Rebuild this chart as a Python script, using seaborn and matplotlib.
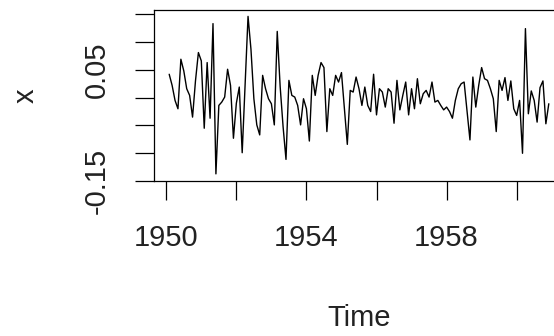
import numpy as np
import pandas as pd
import matplotlib
matplotlib.use("Agg")
import matplotlib.pyplot as plt
import seaborn as sns

# monthly series, starting Feb 1950
start_year = 1950
start_month = 2
x_values = [
    0.042, 0.022, -0.005, -0.020, 0.069, 0.048, 0.016, 0.004, -0.035, 0.030, 0.081, 0.066,
    -0.055, 0.063, -0.037, 0.133, -0.137, -0.014, -0.008, 0.001, 0.051, 0.022, -0.073, -0.010,
    0.019, -0.099, 0.025, 0.146, 0.087, -0.002, -0.049, -0.067, 0.040, 0.016, -0.002, -0.011,
    -0.049, 0.119, 0.020, -0.052, -0.111, 0.031, 0.004, 0.001, -0.014, -0.049, -0.002, -0.020,
    -0.078, 0.040, 0.004, 0.040, 0.063, 0.054, -0.061, 0.016, 0.004, 0.040, 0.028, 0.045,
    -0.020, -0.084, 0.013, 0.010, 0.037, 0.016, -0.014, 0.019, -0.014, -0.025, 0.042, -0.031,
    0.016, 0.010, -0.017, 0.016, 0.010, -0.046, 0.031, -0.022, 0.004, 0.028, -0.031, 0.016,
    -0.020, 0.034, -0.011, 0.007, 0.013, 0.001, 0.028, -0.008, -0.005, -0.014, -0.022, -0.017,
    -0.025, -0.037, -0.005, 0.016, 0.025, 0.028, -0.025, -0.076, 0.037, -0.017, 0.022, 0.054,
    0.034, 0.031, 0.016, -0.002, -0.061, 0.031, 0.013, 0.036, -0.005, 0.030, -0.020, -0.032,
    -0.005, -0.100, 0.124, -0.029, 0.012, -0.005, -0.044, 0.018, 0.030, -0.047, -0.011,
]
x_ticks = [1950, 1952, 1954, 1956, 1958, 1960]
x_ticklabels = ["1950", "", "1954", "", "1958", ""]
y_ticks = [-0.15, -0.10, -0.05, 0.00, 0.05, 0.10, 0.15]
y_ticklabels = ["-0.15", "", "", "", "0.05", "", ""]

time = start_year + (start_month - 1 + np.arange(len(x_values))) / 12
df = pd.DataFrame({"Time": time, "x": x_values})

sns.set_style("ticks")
plt.rcParams["font.family"] = ["Liberation Sans", "DejaVu Sans"]

fig = plt.figure(figsize=(5.54, 3.36), dpi=100)
ax = fig.add_axes([0.278, 0.461, 0.740, 0.509])

sns.lineplot(data=df, x="Time", y="x", color="black", linewidth=1.0, ax=ax)

# R style 4% padding
def pad(lo, hi):
    d = (hi - lo) * 0.04
    return lo - d, hi + d

ax.set_xlim(*pad(df["Time"].min(), df["Time"].max()))
ax.set_ylim(*pad(df["x"].min(), df["x"].max()))

ax.set_xticks(x_ticks)
ax.set_xticklabels(x_ticklabels)
ax.set_yticks(y_ticks)
ax.set_yticklabels(y_ticklabels, rotation=90, va="center")

ax.tick_params(direction="out", length=14, width=0.9, color="black",
               labelsize=21, pad=17, labelcolor="#222222")
for s in ax.spines.values():
    s.set_linewidth(0.9)
    s.set_color("black")

ax.set_xlabel("Time", fontsize=21, labelpad=37, color="#222222")
ax.set_ylabel("x", fontsize=21, labelpad=31, color="#222222")

fig.savefig("out.png", dpi=100)
